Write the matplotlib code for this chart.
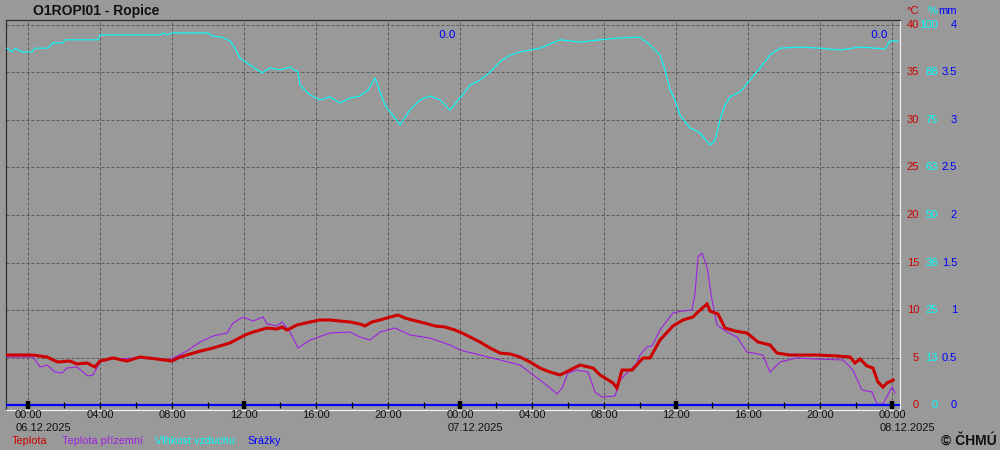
"""
Meteogram for station O1ROPI01 - Ropice, 06.12.2025 - 08.12.2025.
"""

import numpy as np
import matplotlib
matplotlib.use("Agg")
import matplotlib.pyplot as plt
from matplotlib import transforms

# hours since 06.12.2025 00:00
temp_hours = [-1.17, 0.28, 1.06, 1.39, 1.67, 2.33, 2.72, 3.28, 3.72, 4.0, 4.72, 5.5,
              6.22, 7.17, 8.0, 8.44, 9.39, 10.28, 11.22, 12.06, 12.5, 13.28, 13.83,
              14.11, 14.39, 14.94, 15.67, 16.22, 16.78, 17.33, 17.89, 18.44, 18.72,
              19.11, 19.56, 20.11, 20.56, 20.94, 21.33, 21.78, 22.22, 22.61, 23.17,
              23.72, 24.11, 24.56, 25.11, 25.67, 26.22, 26.78, 27.33, 27.89, 28.44,
              29.0, 29.56, 30.11, 30.67, 31.39, 31.78, 32.5, 32.72, 33.0, 33.56,
              34.17, 34.56, 35.11, 35.83, 36.39, 36.94, 37.22, 37.72, 37.89, 38.33,
              38.72, 39.28, 39.94, 40.56, 41.22, 41.61, 42.33, 43.83, 44.94, 45.67,
              45.94, 46.22, 46.61, 46.94, 47.22, 47.5, 47.72, 48.06]
temp_c = [5.26, 5.26, 5.05, 4.74, 4.53, 4.63, 4.32, 4.42, 4.0, 4.63, 4.95, 4.63,
          5.05, 4.84, 4.63, 5.05, 5.58, 6.0, 6.53, 7.37, 7.68, 8.1, 8.0,
          8.21, 7.89, 8.42, 8.74, 8.95, 8.95, 8.84, 8.74, 8.53, 8.32,
          8.74, 8.95, 9.26, 9.47, 9.16, 8.95, 8.74, 8.53, 8.32, 8.21,
          7.89, 7.58, 7.16, 6.63, 6.0, 5.47, 5.37, 5.05, 4.53, 3.89,
          3.47, 3.16, 3.68, 4.21, 3.89, 3.16, 2.32, 1.79, 3.68, 3.68,
          4.95, 4.95, 6.84, 8.32, 8.95, 9.26, 9.79, 10.63, 9.89, 9.58,
          8.11, 7.79, 7.58, 6.63, 6.32, 5.47, 5.26, 5.26, 5.16, 5.05,
          4.42, 4.84, 4.11, 3.89, 2.42, 1.89, 2.32, 2.63]

ground_hours = [-1.17, 0.28, 0.67, 1.06, 1.5, 1.89, 2.17, 2.72, 3.33, 3.61, 4.0, 4.72,
                6.22, 7.72, 8.06, 8.83, 9.56, 10.28, 11.06, 11.39, 11.94, 12.5, 13.06,
                13.28, 13.83, 14.11, 14.56, 15.0, 15.67, 16.78, 17.89, 18.44, 19.0,
                19.56, 20.39, 21.22, 22.33, 23.44, 24.0, 25.11, 26.22, 27.33, 28.44,
                29.0, 29.39, 29.67, 30.0, 30.5, 31.11, 31.5, 31.89, 32.61, 32.89,
                33.83, 34.0, 34.39, 34.67, 35.11, 35.83, 36.33, 36.89, 37.06, 37.22,
                37.44, 37.72, 38.0, 38.28, 38.83, 39.39, 39.94, 40.28, 40.83, 41.22,
                41.78, 42.72, 43.83, 45.28, 45.83, 46.33, 46.89, 47.17, 47.5, 48.0, 48.17]
ground_c = [5.05, 5.05, 4.0, 4.21, 3.47, 3.37, 3.89, 4.0, 3.05, 3.16, 4.53, 4.84,
            4.95, 4.74, 4.95, 5.68, 6.63, 7.26, 7.58, 8.63, 9.26, 8.84, 9.26,
            8.53, 8.32, 8.74, 7.68, 6.0, 6.84, 7.58, 7.68, 7.16, 6.84,
            7.68, 8.11, 7.37, 7.05, 6.32, 5.79, 5.26, 4.74, 4.21, 2.63,
            1.79, 1.16, 1.79, 3.37, 3.68, 3.47, 1.37, 0.84, 0.95, 2.63,
            4.42, 5.26, 6.11, 6.21, 7.89, 9.68, 9.89, 10.0, 11.79, 15.58,
            16.0, 14.53, 11.05, 8.42, 7.68, 7.16, 5.58, 5.47, 5.26, 3.47,
            4.53, 4.95, 4.84, 4.74, 3.68, 1.58, 1.37, 0.1, 0.1, 1.89, 1.26]

hum_hours = [-1.17, -0.89, -0.72, -0.33, 0.22, 0.39, 1.11, 1.39, 1.94, 2.06, 3.89, 4.0,
             7.33, 7.5, 7.72, 8.0, 10.0, 10.22, 10.78, 11.22, 11.5, 11.78, 12.33,
             13.0, 13.44, 14.0, 14.56, 15.0, 15.11, 15.67, 16.22, 16.78, 17.33,
             17.89, 18.44, 18.89, 19.28, 19.83, 20.39, 20.67, 21.22, 21.78, 22.33,
             22.89, 23.44, 24.0, 24.56, 25.11, 25.67, 26.22, 26.78, 27.33, 28.44,
             29.56, 30.67, 31.78, 32.89, 34.0, 34.56, 35.11, 35.39, 35.67, 35.94,
             36.22, 36.78, 37.33, 37.89, 38.17, 38.44, 38.72, 39.0, 39.56, 40.11,
             40.67, 41.22, 41.78, 42.89, 44.0, 45.11, 46.22, 47.61, 47.89, 48.33]
hum_pct = [93.9, 92.9, 93.9, 92.9, 92.9, 93.9, 93.9, 95.3, 95.3, 96.1, 96.1, 97.4,
           97.4, 97.9, 97.4, 97.9, 97.9, 97.1, 96.8, 95.8, 93.9, 91.3, 89.5,
           87.4, 88.7, 88.2, 88.9, 87.6, 84.2, 81.6, 80.3, 81.1, 79.5,
           80.8, 81.3, 82.9, 86.1, 78.9, 75.5, 73.7, 77.6, 80.3, 81.3,
           80.3, 77.6, 80.8, 84.2, 85.5, 87.6, 90.3, 92.1, 92.9, 93.9,
           96.1, 95.5, 96.1, 96.6, 96.8, 94.7, 92.1, 88.2, 82.9, 80.3,
           76.3, 72.9, 71.6, 68.4, 69.7, 75.0, 78.9, 81.1, 82.4, 85.5,
           88.7, 92.1, 93.9, 94.2, 93.9, 93.4, 94.2, 93.7, 95.8, 95.8]

precip_hours = [-1.25, 48.45]
precip_mm = [0.0, 0.0]

# daily precipitation sums, shown at the end of each day
day_end_hours = [24, 48]
day_sums = [0.0, 0.0]

day_starts = [0, 24, 48]
day_labels = ["06.12.2025", "07.12.2025", "08.12.2025"]

temp_ticks = [0, 5, 10, 15, 20, 25, 30, 35, 40]
hum_ticks = ["0", "13", "25", "38", "50", "63", "75", "88", "100"]
mm_ticks = ["0", "0.5", "1", "1.5", "2", "2.5", "3", "3.5", "4"]

BG = "#999999"
RED = "#cc0000"
PURPLE = "#a020e0"
CYAN = "#00ffff"
BLUE = "#0000ff"

plt.rcParams['font.family'] = ['Liberation Sans', 'DejaVu Sans']

fig = plt.figure(figsize=(10, 4.5), dpi=100, facecolor=BG)
ax = fig.add_axes([0.006, 1 - 410 / 450, 0.894, 390 / 450], facecolor=BG)

ax.set_xlim(-1.222, 48.444)
ax.set_ylim(-0.526, 40.526)

ax.set_xticks(np.arange(0, 49, 4))
ax.set_yticks(temp_ticks[1:])
ax.tick_params(length=0, labelbottom=False, labelleft=False)
ax.grid(True, color="#5a5a5a", linestyle=(0, (3, 2)), linewidth=0.72)

for side in ("left", "top"):
    ax.spines[side].set_color("#303030")
    ax.spines[side].set_linewidth(0.9)
for side in ("right", "bottom"):
    ax.spines[side].set_color("#eeeeee")
    ax.spines[side].set_linewidth(0.9)

# humidity on 0-100 % mapped to 0-40, precipitation 0-4 mm mapped to 0-40
ax.plot(hum_hours, np.array(hum_pct) * 0.4, color=CYAN, lw=0.8, zorder=3)
ax.plot(ground_hours, ground_c, color=PURPLE, lw=0.8, zorder=4)
ax.plot(temp_hours, temp_c, color=RED, lw=2.2, zorder=5, solid_joinstyle="miter")
ax.plot(precip_hours, np.array(precip_mm) * 10, color=BLUE, lw=1.6, zorder=6)

# time ticks along the zero line
minor = np.arange(0, 49, 2)
major = np.arange(0, 49, 12)
ax.plot(minor, np.zeros(len(minor)), ls="none", marker="|", ms=4.5, mew=0.9,
        color="black", zorder=7, clip_on=False)
ax.plot(major, np.zeros(len(major)), ls="none", marker="|", ms=6, mew=3.2,
        color="black", zorder=8, clip_on=False)

# precipitation sums
for h, s in zip(day_end_hours, day_sums):
    ax.text(h, 38.9, f"{s:.1f}", color=BLUE, fontsize=8, ha="right",
            va="center", family="DejaVu Sans",
            transform=transforms.offset_copy(ax.transData, fig, x=-4, y=0, units="dots"))

# time labels
xt = transforms.blended_transform_factory(ax.transData, fig.transFigure)
for h in np.arange(0, 49, 4):
    ax.text(h, 1 - 415.5 / 450, f"{int(h) % 24:02d}:00", fontsize=8,
            ha="center", va="center", color="#111111", transform=xt)
for h, lab in zip(day_starts, day_labels):
    ax.text(h, 1 - 428 / 450, lab, fontsize=8, ha="left", va="center",
            color="#111111",
            transform=transforms.offset_copy(xt, fig, x=-12, y=0, units="dots"))

# right-hand scales
yt = transforms.blended_transform_factory(fig.transFigure, ax.transData)
for t, hl, ml in zip(temp_ticks, hum_ticks, mm_ticks):
    fig.text(0.919, t, str(t), color=RED, fontsize=8, ha="right", va="center", transform=yt)
    fig.text(0.938, t, hl, color=CYAN, fontsize=8, ha="right", va="center", transform=yt)
    fig.text(0.957, t, ml, color=BLUE, fontsize=8, ha="right", va="center", transform=yt)
fig.text(0.919, 1 - 10.5 / 450, "°C", color=RED, fontsize=8, ha="right", va="center")
fig.text(0.937, 1 - 10.5 / 450, "%", color=CYAN, fontsize=8, ha="right", va="center")
fig.text(0.957, 1 - 10.5 / 450, "mm", color=BLUE, fontsize=8, ha="right", va="center")

# title, legend, credit
fig.text(0.033, 1 - 11 / 450, "O1ROPI01 - Ropice", fontsize=10, fontweight="bold",
         ha="left", va="center", color="#111111")
legend = [("Teplota", RED, 0.012), ("Teplota přízemní", PURPLE, 0.062),
          ("Vlhkost vzduchu", CYAN, 0.155), ("Srážky", BLUE, 0.247)]
for lab, col, x in legend:
    fig.text(x, 1 - 441 / 450, lab, color=col, fontsize=7.8, ha="left", va="center")
fig.text(0.997, 1 - 440.5 / 450, "© ČHMÚ", fontsize=10, fontweight="bold",
         ha="right", va="center", color="#111111")

fig.savefig("out.png", dpi=100, facecolor=BG)
